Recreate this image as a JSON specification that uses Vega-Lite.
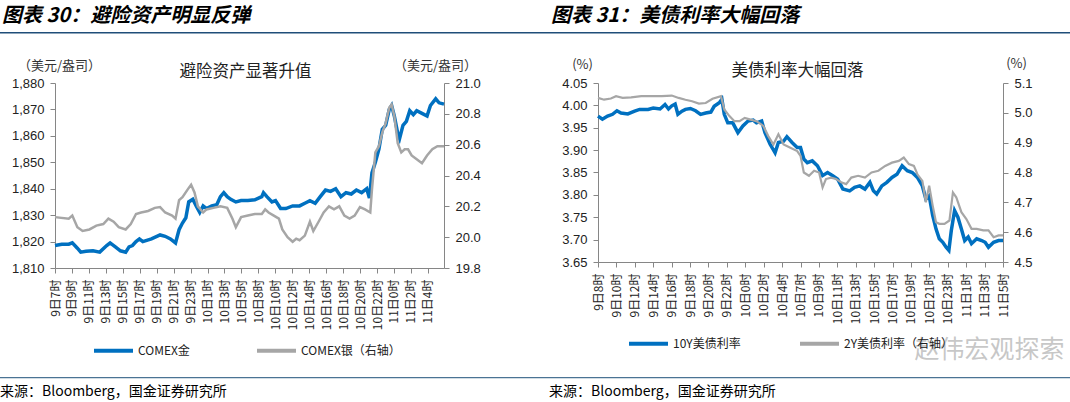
{
 "$schema": "https://vega.github.io/schema/vega-lite/v6.json",
 "padding": {"left": 0, "top": 6, "right": 0, "bottom": 0},
 "background": "white",
 "config": {
  "view": {"stroke": null},
  "axis": {"labelFont": "Liberation Sans", "labelFontSize": 13, "labelColor": "#222222", "domainColor": "#868686", "tickColor": "#868686", "tickSize": 5, "grid": false, "titleFont": "Noto Sans CJK SC", "titleFontWeight": "normal", "titleFontSize": 13, "titleColor": "#333333", "labelPadding": 6}
 },
 "datasets": {
  "goldL": [{"t":0,"v":1818.5},{"t":0.4,"v":1819},{"t":0.81,"v":1819},{"t":1.02,"v":1819.5},{"t":1.32,"v":1817.5},{"t":1.52,"v":1816},{"t":1.83,"v":1816.3},{"t":2.24,"v":1816.5},{"t":2.64,"v":1816},{"t":3.05,"v":1818.5},{"t":3.25,"v":1819.5},{"t":3.56,"v":1818},{"t":3.86,"v":1816.5},{"t":4.17,"v":1816},{"t":4.37,"v":1818},{"t":4.57,"v":1818.5},{"t":4.78,"v":1820},{"t":4.98,"v":1821},{"t":5.18,"v":1820},{"t":5.69,"v":1821},{"t":6.2,"v":1822.5},{"t":6.5,"v":1822},{"t":6.81,"v":1821},{"t":7.11,"v":1819.5},{"t":7.32,"v":1824.5},{"t":7.52,"v":1827},{"t":7.72,"v":1829},{"t":7.89,"v":1835},{"t":8.13,"v":1836},{"t":8.33,"v":1833.5},{"t":8.54,"v":1831},{"t":8.74,"v":1833.5},{"t":8.94,"v":1832.5},{"t":9.25,"v":1833.5},{"t":9.55,"v":1834},{"t":9.76,"v":1837},{"t":9.96,"v":1838.5},{"t":10.16,"v":1837},{"t":10.37,"v":1836},{"t":10.67,"v":1835},{"t":10.98,"v":1835.5},{"t":11.38,"v":1835.5},{"t":11.79,"v":1835.8},{"t":12.2,"v":1837},{"t":12.3,"v":1838.5},{"t":12.5,"v":1837},{"t":12.8,"v":1835},{"t":13.01,"v":1835.5},{"t":13.31,"v":1832.5},{"t":13.62,"v":1832.5},{"t":14.02,"v":1833.5},{"t":14.43,"v":1833.5},{"t":14.74,"v":1834.5},{"t":15.04,"v":1835.5},{"t":15.35,"v":1834.5},{"t":15.65,"v":1837},{"t":15.96,"v":1839.5},{"t":16.26,"v":1839},{"t":16.56,"v":1840},{"t":16.87,"v":1837},{"t":17.17,"v":1838.5},{"t":17.48,"v":1838},{"t":17.78,"v":1839.5},{"t":18.09,"v":1838.5},{"t":18.39,"v":1840},{"t":18.55,"v":1836.5},{"t":18.7,"v":1846},{"t":18.9,"v":1850},{"t":19.11,"v":1855},{"t":19.31,"v":1862.5},{"t":19.51,"v":1864},{"t":19.72,"v":1870},{"t":19.86,"v":1871.5},{"t":20.02,"v":1867.5},{"t":20.22,"v":1861},{"t":20.33,"v":1859},{"t":20.53,"v":1864},{"t":20.73,"v":1865.5},{"t":20.93,"v":1869.5},{"t":21.14,"v":1868},{"t":21.34,"v":1869.5},{"t":21.65,"v":1868.5},{"t":21.95,"v":1867.5},{"t":22.15,"v":1871.5},{"t":22.46,"v":1874},{"t":22.66,"v":1872.5},{"t":22.95,"v":1872}],
  "silverL": [{"t":0,"v":20.13},{"t":0.81,"v":20.12},{"t":1.02,"v":20.14},{"t":1.32,"v":20.065},{"t":1.63,"v":20.04},{"t":2.03,"v":20.05},{"t":2.44,"v":20.075},{"t":2.85,"v":20.085},{"t":3.15,"v":20.12},{"t":3.46,"v":20.1},{"t":3.76,"v":20.065},{"t":4.17,"v":20.05},{"t":4.47,"v":20.085},{"t":4.78,"v":20.15},{"t":5.08,"v":20.16},{"t":5.49,"v":20.17},{"t":5.89,"v":20.19},{"t":6.2,"v":20.195},{"t":6.5,"v":20.16},{"t":6.91,"v":20.14},{"t":7.11,"v":20.12},{"t":7.32,"v":20.24},{"t":7.52,"v":20.26},{"t":7.83,"v":20.31},{"t":8.03,"v":20.34},{"t":8.23,"v":20.29},{"t":8.43,"v":20.2},{"t":8.74,"v":20.16},{"t":8.94,"v":20.18},{"t":9.35,"v":20.19},{"t":9.76,"v":20.2},{"t":10.16,"v":20.19},{"t":10.47,"v":20.12},{"t":10.67,"v":20.065},{"t":10.98,"v":20.13},{"t":11.38,"v":20.14},{"t":11.79,"v":20.15},{"t":12.2,"v":20.15},{"t":12.4,"v":20.18},{"t":12.6,"v":20.16},{"t":12.91,"v":20.14},{"t":13.21,"v":20.12},{"t":13.41,"v":20.05},{"t":13.72,"v":20.0},{"t":14.02,"v":19.97},{"t":14.23,"v":19.99},{"t":14.43,"v":19.98},{"t":14.74,"v":20.01},{"t":15.04,"v":20.1},{"t":15.24,"v":20.04},{"t":15.55,"v":20.1},{"t":15.85,"v":20.16},{"t":16.16,"v":20.2},{"t":16.46,"v":20.18},{"t":16.77,"v":20.2},{"t":17.07,"v":20.14},{"t":17.38,"v":20.12},{"t":17.68,"v":20.14},{"t":17.99,"v":20.195},{"t":18.29,"v":20.18},{"t":18.6,"v":20.16},{"t":18.7,"v":20.31},{"t":18.9,"v":20.55},{"t":19.11,"v":20.59},{"t":19.31,"v":20.68},{"t":19.51,"v":20.74},{"t":19.72,"v":20.84},{"t":19.86,"v":20.86},{"t":20.02,"v":20.785},{"t":20.22,"v":20.61},{"t":20.43,"v":20.55},{"t":20.63,"v":20.57},{"t":20.83,"v":20.57},{"t":21.04,"v":20.53},{"t":21.34,"v":20.505},{"t":21.65,"v":20.48},{"t":21.95,"v":20.53},{"t":22.26,"v":20.57},{"t":22.56,"v":20.59},{"t":22.95,"v":20.59}],
  "y10": [{"t":0,"v":3.976},{"t":0.24,"v":3.969},{"t":0.52,"v":3.976},{"t":0.79,"v":3.98},{"t":1.03,"v":3.988},{"t":1.25,"v":3.983},{"t":1.62,"v":3.981},{"t":1.99,"v":3.987},{"t":2.26,"v":3.991},{"t":2.72,"v":3.991},{"t":3.0,"v":3.994},{"t":3.37,"v":3.992},{"t":3.64,"v":4.002},{"t":3.83,"v":3.992},{"t":4.01,"v":3.999},{"t":4.19,"v":4.003},{"t":4.34,"v":3.98},{"t":4.56,"v":3.987},{"t":4.75,"v":3.991},{"t":5.02,"v":3.993},{"t":5.3,"v":3.988},{"t":5.57,"v":3.98},{"t":5.85,"v":3.983},{"t":6.13,"v":3.985},{"t":6.31,"v":3.998},{"t":6.59,"v":4.006},{"t":6.73,"v":4.014},{"t":6.86,"v":3.98},{"t":7.05,"v":3.961},{"t":7.32,"v":3.961},{"t":7.6,"v":3.939},{"t":7.87,"v":3.954},{"t":8.15,"v":3.965},{"t":8.43,"v":3.967},{"t":8.61,"v":3.961},{"t":8.89,"v":3.965},{"t":9.07,"v":3.939},{"t":9.35,"v":3.913},{"t":9.62,"v":3.894},{"t":9.8,"v":3.917},{"t":10.08,"v":3.92},{"t":10.26,"v":3.93},{"t":10.54,"v":3.917},{"t":10.82,"v":3.906},{"t":11.0,"v":3.906},{"t":11.18,"v":3.88},{"t":11.37,"v":3.872},{"t":11.64,"v":3.876},{"t":11.92,"v":3.865},{"t":12.2,"v":3.843},{"t":12.47,"v":3.85},{"t":12.75,"v":3.843},{"t":13.02,"v":3.835},{"t":13.3,"v":3.813},{"t":13.67,"v":3.809},{"t":13.94,"v":3.817},{"t":14.22,"v":3.82},{"t":14.5,"v":3.813},{"t":14.77,"v":3.828},{"t":14.96,"v":3.809},{"t":15.14,"v":3.802},{"t":15.42,"v":3.82},{"t":15.69,"v":3.828},{"t":15.97,"v":3.839},{"t":16.24,"v":3.846},{"t":16.52,"v":3.865},{"t":16.8,"v":3.854},{"t":17.07,"v":3.85},{"t":17.35,"v":3.839},{"t":17.62,"v":3.82},{"t":17.81,"v":3.791},{"t":17.99,"v":3.798},{"t":18.18,"v":3.754},{"t":18.36,"v":3.724},{"t":18.54,"v":3.702},{"t":18.73,"v":3.694},{"t":18.91,"v":3.683},{"t":19.06,"v":3.676},{"t":19.19,"v":3.72},{"t":19.37,"v":3.765},{"t":19.55,"v":3.75},{"t":19.74,"v":3.724},{"t":19.92,"v":3.698},{"t":20.11,"v":3.706},{"t":20.29,"v":3.691},{"t":20.57,"v":3.702},{"t":20.84,"v":3.698},{"t":21.03,"v":3.694},{"t":21.21,"v":3.683},{"t":21.49,"v":3.694},{"t":21.76,"v":3.698},{"t":22.0,"v":3.698}],
  "y2": [{"t":0,"v":5.05},{"t":0.33,"v":5.044},{"t":0.7,"v":5.048},{"t":0.98,"v":5.056},{"t":1.34,"v":5.05},{"t":1.8,"v":5.052},{"t":2.35,"v":5.056},{"t":2.91,"v":5.056},{"t":3.46,"v":5.056},{"t":4.01,"v":5.058},{"t":4.38,"v":5.05},{"t":4.75,"v":5.044},{"t":5.11,"v":5.039},{"t":5.48,"v":5.031},{"t":5.85,"v":5.033},{"t":6.22,"v":5.047},{"t":6.68,"v":5.056},{"t":6.86,"v":5.011},{"t":7.14,"v":4.989},{"t":7.41,"v":4.972},{"t":7.69,"v":4.972},{"t":7.97,"v":4.983},{"t":8.24,"v":4.978},{"t":8.61,"v":4.972},{"t":8.98,"v":4.956},{"t":9.25,"v":4.922},{"t":9.53,"v":4.894},{"t":9.8,"v":4.928},{"t":10.08,"v":4.894},{"t":10.45,"v":4.883},{"t":10.82,"v":4.872},{"t":11.0,"v":4.856},{"t":11.18,"v":4.8},{"t":11.46,"v":4.789},{"t":11.74,"v":4.806},{"t":12.01,"v":4.8},{"t":12.2,"v":4.75},{"t":12.38,"v":4.778},{"t":12.66,"v":4.783},{"t":12.93,"v":4.778},{"t":13.21,"v":4.767},{"t":13.48,"v":4.761},{"t":13.76,"v":4.783},{"t":14.13,"v":4.789},{"t":14.5,"v":4.783},{"t":14.86,"v":4.8},{"t":15.23,"v":4.806},{"t":15.6,"v":4.822},{"t":15.97,"v":4.833},{"t":16.34,"v":4.839},{"t":16.61,"v":4.85},{"t":16.89,"v":4.828},{"t":17.16,"v":4.822},{"t":17.35,"v":4.794},{"t":17.62,"v":4.772},{"t":17.81,"v":4.7},{"t":17.99,"v":4.756},{"t":18.18,"v":4.689},{"t":18.36,"v":4.633},{"t":18.54,"v":4.628},{"t":18.82,"v":4.628},{"t":19.09,"v":4.639},{"t":19.28,"v":4.733},{"t":19.46,"v":4.717},{"t":19.74,"v":4.667},{"t":20.01,"v":4.644},{"t":20.29,"v":4.611},{"t":20.57,"v":4.611},{"t":20.93,"v":4.606},{"t":21.21,"v":4.606},{"t":21.49,"v":4.583},{"t":21.76,"v":4.589},{"t":22.0,"v":4.589}]
 },
 "spacing": 15,
 "resolve": {"scale": {"color": "independent"}, "legend": {"color": "independent"}},
 "vconcat": [
  {
   "spacing": 23,
   "resolve": {"scale": {"color": "independent"}, "legend": {"color": "independent"}},
   "vconcat": [
    {
     "bounds": "flush",
     "spacing": 0,
     "hconcat": [
      {"width": 535, "height": 1.5, "data": {"values": []}, "mark": "point", "encoding": {},
       "view": {"fill": "#1F4E79", "stroke": null},
       "title": {"text": "图表 30：避险资产明显反弹", "anchor": "start", "frame": "group", "offset": 6, "dx": 2, "fontSize": 20, "fontWeight": "bold", "fontStyle": "italic", "font": "Noto Sans CJK SC", "color": "#000000"}},
      {"width": 535, "height": 1.5, "data": {"values": []}, "mark": "point", "encoding": {},
       "view": {"fill": "#1F4E79", "stroke": null},
       "title": {"text": "图表 31：美债利率大幅回落", "anchor": "start", "frame": "group", "offset": 6, "dx": 16, "fontSize": 20, "fontWeight": "bold", "fontStyle": "italic", "font": "Noto Sans CJK SC", "color": "#000000"}}
     ]
    },
    {
     "bounds": "flush",
     "spacing": 54,
     "resolve": {"scale": {"color": "independent"}, "legend": {"color": "independent"}},
     "hconcat": [
      {"width": 1, "height": 1, "data": {"values": []}, "mark": "point", "encoding": {}, "view": {"fill": "#ffffff", "stroke": null}},
      {
       "bounds": "flush",
       "spacing": 154,
       "resolve": {"scale": {"color": "independent"}, "legend": {"color": "independent"}},
       "hconcat": [
        {
         "width": 389, "height": 185,
         "title": {"text": "避险资产显著升值", "frame": "group", "anchor": "middle", "offset": 5, "dx": -4, "dy": 26, "fontSize": 16.5, "fontWeight": "normal", "font": "Noto Sans CJK SC", "color": "#222222"},
         "encoding": {"x": {"field": "t", "type": "quantitative", "scale": {"domain": [0, 22.95], "nice": false, "zero": false},
           "axis": {"values": [0,1,2,3,4,5,6,7,8,9,10,11,12,13,14,15,16,17,18,19,20,21,22], "labelExpr": "['9日7时','9日9时','9日11时','9日13时','9日15时','9日17时','9日19时','9日21时','9日23时','10日1时','10日3时','10日5时','10日8时','10日10时','10日12时','10日14时','10日16时','10日18时','10日20时','10日22时','11日0时','11日2时','11日4时'][datum.value]", "labelAngle": -90, "labelFont": "Noto Sans CJK SC", "labelFontSize": 12, "labelPadding": 6, "title": null, "labelOverlap": false}}},
         "layer": [
          {"data": {"name": "goldL"}, "mark": {"type": "line", "strokeWidth": 3.5},
           "encoding": {
            "y": {"field": "v", "type": "quantitative", "scale": {"domain": [1810, 1880], "zero": false, "nice": false},
             "axis": {"orient": "left", "values": [1810,1820,1830,1840,1850,1860,1870,1880], "format": ",.0f", "title": "（美元/盎司）", "titleAngle": 0, "titleX": 4, "titleY": -18, "titleAlign": "center", "titleBaseline": "middle"}},
            "color": {"datum": "COMEX金", "type": "nominal", "scale": {"domain": ["COMEX金", "COMEX银（右轴）"], "range": ["#0070C0", "#A6A6A6"]},
             "legend": {"orient": "none", "legendX": 37, "legendY": 246, "direction": "horizontal", "title": null, "symbolType": "stroke", "symbolSize": 1521, "symbolStrokeWidth": 4, "labelFont": "Noto Sans CJK SC", "labelFontSize": 12, "labelColor": "#222222", "columnPadding": 59, "labelOffset": 3}}
           }},
          {"data": {"name": "silverL"}, "mark": {"type": "line", "strokeWidth": 2.5},
           "encoding": {
            "y": {"field": "v", "type": "quantitative", "scale": {"domain": [19.8, 21.0], "zero": false, "nice": false},
             "axis": {"orient": "right", "values": [19.8,20.0,20.2,20.4,20.6,20.8,21.0], "format": ".1f", "title": "（美元/盎司）", "titleAngle": 0, "titleX": -9, "titleY": -18, "titleAlign": "center", "titleBaseline": "middle"}},
            "color": {"datum": "COMEX银（右轴）", "type": "nominal"}
           }}
         ],
         "resolve": {"scale": {"y": "independent"}}
        },
        {
         "width": 405, "height": 179,
         "title": {"text": "美债利率大幅回落", "frame": "group", "anchor": "middle", "offset": 5, "dx": -3, "dy": 27, "fontSize": 16.5, "fontWeight": "normal", "font": "Noto Sans CJK SC", "color": "#222222"},
         "encoding": {"x": {"field": "t", "type": "quantitative", "scale": {"domain": [0, 22], "nice": false, "zero": false},
           "axis": {"values": [0,1,2,3,4,5,6,7,8,9,10,11,12,13,14,15,16,17,18,19,20,21,22], "labelExpr": "['9日8时','9日10时','9日12时','9日14时','9日16时','9日18时','9日20时','9日22时','10日0时','10日2时','10日4时','10日7时','10日9时','10日11时','10日13时','10日15时','10日17时','10日19时','10日21时','10日23时','11日1时','11日3时','11日5时'][datum.value]", "labelAngle": -90, "labelFont": "Noto Sans CJK SC", "labelFontSize": 12, "labelPadding": 6, "labelOverlap": false,
            "title": "赵伟宏观探索", "titleFont": "Noto Sans CJK SC", "titleFontSize": 25, "titleColor": "#bdbdbd", "titleOpacity": 0.85, "titleX": 391, "titleY": 87, "titleAlign": "center", "titleBaseline": "middle"}}},
         "layer": [
          {"data": {"name": "y10"}, "mark": {"type": "line", "strokeWidth": 3.5},
           "encoding": {
            "y": {"field": "v", "type": "quantitative", "scale": {"domain": [3.65, 4.05], "zero": false, "nice": false},
             "axis": {"orient": "left", "values": [3.65,3.7,3.75,3.8,3.85,3.9,3.95,4.0,4.05], "format": ".2f", "title": "(%)", "titleAngle": 0, "titleX": -16, "titleY": -19, "titleAlign": "center", "titleBaseline": "middle"}},
            "color": {"datum": "10Y美债利率", "type": "nominal", "scale": {"domain": ["10Y美债利率", "2Y美债利率（右轴）"], "range": ["#0070C0", "#A6A6A6"]},
             "legend": {"orient": "none", "legendX": 29, "legendY": 239, "direction": "horizontal", "title": null, "symbolType": "stroke", "symbolSize": 1521, "symbolStrokeWidth": 4, "labelFont": "Noto Sans CJK SC", "labelFontSize": 12, "labelColor": "#222222", "columnPadding": 51, "labelOffset": 3}}
           }},
          {"data": {"name": "y2"}, "mark": {"type": "line", "strokeWidth": 2.2},
           "encoding": {
            "y": {"field": "v", "type": "quantitative", "scale": {"domain": [4.5, 5.1], "zero": false, "nice": false},
             "axis": {"orient": "right", "values": [4.5,4.6,4.7,4.8,4.9,5.0,5.1], "format": ".1f", "title": "(%)", "titleAngle": 0, "titleX": 13, "titleY": -20, "titleAlign": "center", "titleBaseline": "middle"}},
            "color": {"datum": "2Y美债利率（右轴）", "type": "nominal"}
           }}
         ],
         "resolve": {"scale": {"y": "independent"}}
        }
       ]
      }
     ]
    }
   ]
  },
  {
   "bounds": "flush",
   "spacing": 0,
   "hconcat": [
    {"width": 535, "height": 1.2, "data": {"values": []}, "mark": "point", "encoding": {},
     "view": {"fill": "#4A7394", "stroke": null},
     "title": {"text": "来源：Bloomberg，国金证券研究所", "orient": "bottom", "anchor": "start", "frame": "group", "offset": 7, "dx": 0, "fontSize": 14, "fontWeight": "normal", "font": "Noto Sans CJK SC", "color": "#000000"}},
    {"width": 535, "height": 1.2, "data": {"values": []}, "mark": "point", "encoding": {},
     "view": {"fill": "#4A7394", "stroke": null},
     "title": {"text": "来源：Bloomberg，国金证券研究所", "orient": "bottom", "anchor": "start", "frame": "group", "offset": 7, "dx": 14, "fontSize": 14, "fontWeight": "normal", "font": "Noto Sans CJK SC", "color": "#000000"}}
   ]
  }
 ]
}
